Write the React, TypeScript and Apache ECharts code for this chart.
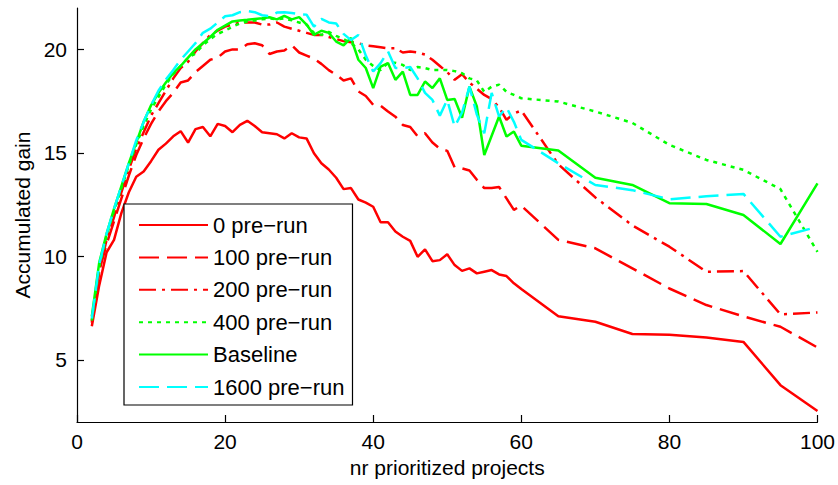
import { useEffect, useRef } from "react";
import * as echarts from "echarts";

const XS = [
  2, 3, 4, 5, 6, 7, 8, 9, 10, 11, 12, 13, 14, 15, 16, 17, 18, 19, 20, 21,
  22, 23, 24, 25, 26, 27, 28, 29, 30, 31, 32, 33, 34, 35, 36, 37, 38, 39, 40, 41,
  42, 43, 44, 45, 46, 47, 48, 49, 50, 51, 52, 53, 54, 55, 56, 57, 58, 59, 60,
  65, 70, 75, 80, 85, 90, 95, 100,
];

const PRE0 = [
  6.63, 8.6, 10.2, 10.8, 12.1, 13.1, 13.85, 14.1, 14.6, 15.15,
  15.45, 15.8, 16.05, 15.5, 16.15, 16.25, 15.8, 16.4, 16.3, 16.0,
  16.35, 16.55, 16.3, 16.0, 15.95, 15.9, 15.7, 15.95, 15.75, 15.7,
  14.98, 14.5, 14.2, 13.8, 13.25, 13.3, 12.75, 12.6, 12.4, 11.65,
  11.65, 11.2, 10.95, 10.75, 9.98, 10.34, 9.77, 9.82, 10.1, 9.58,
  9.3, 9.42, 9.18, 9.26, 9.34, 9.13, 9.05, 8.7, 8.42,
  7.11, 6.84, 6.25, 6.22, 6.08, 5.87, 3.78, 2.53,
];

const PRE100 = [
  6.8, 9.3, 10.6, 11.7, 12.8, 13.9, 14.9, 15.7, 16.4, 17.0,
  17.5, 17.9, 18.4, 18.5, 18.9, 19.2, 19.5, 19.6, 19.9, 20.0,
  20.0, 20.25, 20.3, 20.2, 19.78, 19.9, 19.95, 20.2, 19.85, 19.7,
  19.55, 19.3, 19.0, 18.77, 18.5, 18.6, 17.97, 17.75, 17.32, 17.28,
  17.0, 16.75, 16.35, 16.25, 15.8, 15.95, 15.5, 15.2, 15.1, 14.3,
  14.25, 14.15, 13.7, 13.3, 13.3, 13.35, 12.8, 12.25, 12.45,
  10.8, 10.39, 9.42, 8.45, 7.65, 7.1, 6.6, 5.6,
];

const PRE200 = [
  6.9, 9.3, 10.8, 11.9, 13.1, 14.2, 15.2, 16.0, 16.8, 17.4,
  18.0, 18.6, 19.1, 19.4, 19.9, 20.3, 20.7, 20.9, 21.1, 21.2,
  21.3, 21.3, 21.3, 21.2, 21.2, 21.3, 21.1, 21.0, 20.9, 20.8,
  20.7, 20.7, 20.6, 20.5, 20.4, 20.35, 20.3, 20.2, 20.15, 20.1,
  20.05, 20.05, 19.85, 19.9, 19.85, 19.75, 19.5, 19.2, 18.9, 18.53,
  18.8, 18.4, 18.1, 17.8, 17.6, 17.2, 16.6, 16.9, 17.05,
  14.45, 12.85, 11.5, 10.47, 9.26, 9.29, 7.2, 7.29,
];

const PRE400 = [
  6.9, 9.5, 11.0, 12.2, 13.3, 14.4, 15.4, 16.3, 17.1, 17.7,
  18.3, 18.8, 19.2, 19.6, 19.8, 20.2, 20.5, 20.75, 20.9, 21.1,
  21.25, 21.35, 21.4, 21.45, 21.5, 21.45, 21.5, 21.4, 21.3, 21.2,
  20.8, 20.7, 20.85, 20.65, 20.5, 20.3, 20.0, 19.5, 19.2, 19.0,
  19.35, 19.35, 19.25, 19.0, 19.15, 19.1, 19.0, 19.0, 19.0, 18.95,
  18.85, 18.6, 18.5, 17.95, 18.2, 18.3, 17.95, 17.8, 17.64,
  17.48, 17.0, 16.45, 15.39, 14.66, 14.18, 13.25, 10.22,
];

const BASELINE = [
  7.1, 9.7, 11.1, 12.3, 13.4, 14.5, 15.5, 16.5, 17.3, 17.9,
  18.4, 18.85, 19.2, 19.6, 20.0, 20.3, 20.6, 20.95, 21.15, 21.35,
  21.4, 21.43, 21.47, 21.5, 21.55, 21.45, 21.62, 21.45, 21.56, 21.2,
  20.7, 20.9, 20.8, 20.38, 20.2, 20.55, 19.5, 19.1, 18.13, 19.17,
  19.34, 18.53, 18.93, 17.8, 17.8, 18.45, 18.13, 18.6, 17.56, 17.6,
  16.7, 18.2, 17.24, 14.9, 15.83, 16.76, 15.79, 16.03, 15.35,
  15.12, 13.8, 13.45, 12.57, 12.53, 12.0, 10.6, 13.53,
];

const PRE1600 = [
  7.0, 9.6, 11.1, 12.3, 13.4, 14.5, 15.6, 16.5, 17.3, 18.0,
  18.55, 19.0, 19.5, 19.9, 20.3, 20.8, 21.0, 21.3, 21.6, 21.65,
  21.8, 21.85, 21.8, 21.65, 21.6, 21.78, 21.8, 21.76, 21.7, 21.68,
  21.1, 21.47, 21.3, 21.25, 20.75, 20.45, 20.7, 19.7, 18.93, 19.34,
  19.9, 19.1, 19.1, 19.15, 18.6, 17.9, 17.56, 16.8, 17.56, 16.27,
  16.95, 18.2, 16.85, 15.95, 17.9, 16.76, 17.2, 16.5, 15.63,
  14.5, 13.45, 13.2, 12.76, 12.9, 13.02, 10.95, 11.43,
];

const SERIES_NAMES = [
  "0 pre\u2212run",
  "100 pre\u2212run",
  "200 pre\u2212run",
  "400 pre\u2212run",
  "Baseline",
  "1600 pre\u2212run",
];

const X_TICKS = [0, 20, 40, 60, 80, 100];
const Y_TICKS = [5, 10, 15, 20];

const FONT = "'Liberation Sans', Arial, Helvetica, sans-serif";

export default function App() {
  const ref = useRef<HTMLDivElement>(null);

  useEffect(() => {
    const chart = echarts.init(ref.current!, null, { renderer: "svg" });
    const toPairs = (ys: number[]) => XS.map((x, i) => [x, ys[i]]);
    const RED = "#ff0000";
    const GREEN = "#00ff00";
    const CYAN = "#00ffff";
    const W = 2.5;
    const styles: { color: string; type: any }[] = [
      { color: RED, type: "solid" },
      { color: RED, type: [20, 8] },
      { color: RED, type: [17, 6, 3, 6] },
      { color: GREEN, type: [4, 5] },
      { color: GREEN, type: "solid" },
      { color: CYAN, type: [20, 8] },
    ];
    const datasets = [PRE0, PRE100, PRE200, PRE400, BASELINE, PRE1600];

    chart.setOption({
      animation: false,
      backgroundColor: "#fff",
      textStyle: { fontFamily: FONT },
      grid: { left: 77, right: 19, top: 8, bottom: 63 },
      xAxis: {
        type: "value",
        min: 0,
        max: 100,
        interval: 20,
        name: "nr prioritized projects",
        nameLocation: "middle",
        nameGap: 34,
        nameTextStyle: { fontSize: 21, color: "#000", fontFamily: FONT },
        axisLine: { show: true, lineStyle: { color: "#000", width: 1.2 } },
        axisTick: { show: true, inside: true, length: 7, lineStyle: { color: "#000", width: 1.2 } },
        axisLabel: {
          fontSize: 21,
          color: "#000",
          fontFamily: FONT,
          margin: 9,
          customValues: X_TICKS,
        },
        splitLine: { show: false },
      },
      yAxis: {
        type: "value",
        min: 2,
        max: 22,
        name: "Accumulated gain",
        nameLocation: "middle",
        nameGap: 44,
        nameTextStyle: { fontSize: 21, color: "#000", fontFamily: FONT },
        axisLine: { show: true, lineStyle: { color: "#000", width: 1.2 } },
        axisTick: {
          show: true,
          inside: true,
          length: 7,
          lineStyle: { color: "#000", width: 1.2 },
          customValues: Y_TICKS,
        },
        axisLabel: {
          fontSize: 21,
          color: "#000",
          fontFamily: FONT,
          margin: 10,
          customValues: Y_TICKS,
        },
        splitLine: { show: false },
      },
      legend: {
        orient: "vertical",
        left: 124,
        top: 204,
        padding: [10, 8, 7, 14],
        itemWidth: 69,
        itemHeight: 14,
        itemGap: 10.4,
        backgroundColor: "#fff",
        borderColor: "#000",
        borderWidth: 1.2,
        itemStyle: { opacity: 0 },
        textStyle: { fontSize: 22, color: "#000", fontFamily: FONT, lineHeight: 20, height: 20 },
        data: SERIES_NAMES,
      },
      series: datasets.map((ys, i) => ({
        name: SERIES_NAMES[i],
        type: "line",
        data: toPairs(ys),
        symbol: "none",
        showSymbol: false,
        lineStyle: { color: styles[i].color, width: W, type: styles[i].type },
        itemStyle: { color: styles[i].color },
        emphasis: { disabled: true },
        z: 2 + i,
      })),
    });

    return () => chart.dispose();
  }, []);

  return (
    <div
      ref={ref}
      style={{ position: "fixed", left: 0, top: 0, width: 838, height: 485 }}
    />
  );
}
